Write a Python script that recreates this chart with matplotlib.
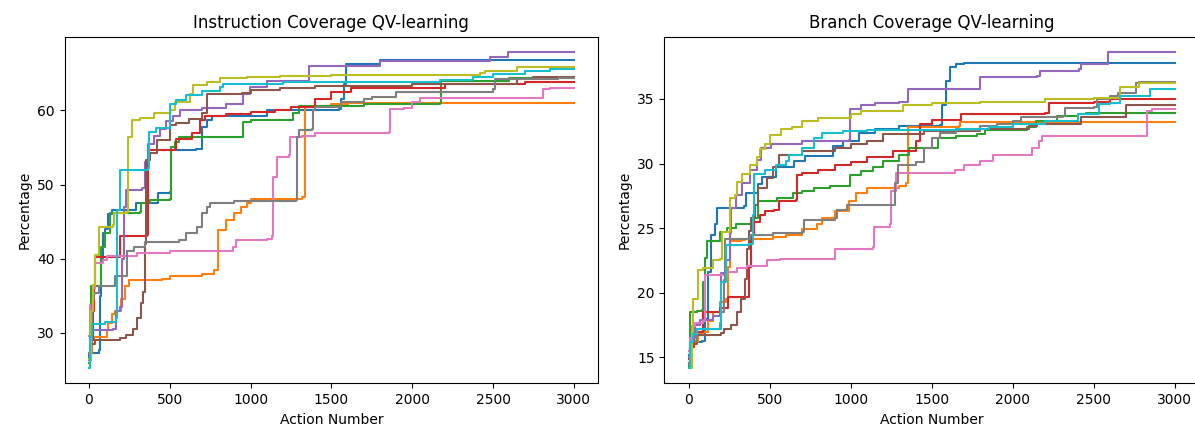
import matplotlib
matplotlib.use("Agg")
import matplotlib.pyplot as plt

n_actions = 3000

# (action, coverage %) breakpoints of each run, instruction coverage
instr_blue = [(0, 26.8), (15, 27.3), (60, 27.7), (68, 35), (75, 40), (90, 43.5), (100, 44), (120, 46),
              (140, 46.5), (290, 47.5), (430, 48.8), (500, 49), (505, 54.6), (660, 54.8), (700, 57.8),
              (728, 58.7), (760, 59.2), (1100, 60), (1545, 60.2), (1560, 61.5), (1575, 63.5),
              (1590, 66.3), (1800, 66.8)]
instr_orange = [(0, 27.3), (20, 29), (30, 29.5), (110, 30.4), (120, 31.3), (140, 32.5), (160, 33),
                (200, 34.5), (225, 36.3), (250, 37.1), (450, 37.3), (500, 37.6), (700, 37.9),
                (775, 38.5), (800, 43.9), (850, 45.2), (900, 46.1), (940, 47), (980, 47.5),
                (1000, 48), (1150, 48.1), (1320, 48.3), (1335, 60.4), (1360, 60.6), (1500, 60.8),
                (1600, 61)]
instr_green = [(0, 26), (5, 30), (10, 36.3), (60, 36.3), (75, 41.6), (100, 43.4), (130, 46.1),
               (315, 46.3), (320, 47.5), (380, 47.9), (500, 48), (505, 55), (530, 55.7), (560, 56.4),
               (950, 56.4), (956, 58.4), (1000, 58.7), (1260, 59.6), (1300, 60.6), (1700, 60.9),
               (2170, 61), (2175, 64), (2600, 64.3)]
instr_red = [(0, 27), (15, 29), (25, 33), (30, 36), (40, 40.2), (190, 40.5), (195, 43), (360, 43.2),
             (366, 54.6), (530, 54.8), (540, 56.2), (640, 56.9), (686, 58.7), (720, 59.3), (850, 59.5),
             (1000, 59.8), (1150, 60), (1250, 60.5), (1400, 61.5), (1500, 62.5), (1620, 63),
             (2200, 63.5), (2700, 63.8)]
instr_purple = [(0, 26.4), (10, 29), (20, 30.4), (150, 30.5), (165, 33), (195, 33.5), (205, 40),
                (215, 47), (230, 49.2), (330, 49.5), (345, 53), (366, 55.5), (400, 56.5), (440, 57.5),
                (480, 58.5), (520, 59.3), (563, 60), (700, 60.3), (851, 60.9), (954, 62.2),
                (995, 63.1), (1100, 64), (1360, 66), (1800, 66.7), (2480, 67.2), (2590, 67.8)]
instr_brown = [(0, 27), (15, 28.5), (40, 29), (190, 29.3), (230, 29.7), (270, 30.5), (300, 32),
               (320, 34), (335, 35.5), (345, 42), (355, 53.3), (380, 54.2), (420, 56), (500, 58),
               (540, 58.3), (620, 58.8), (700, 59.6), (728, 62.2), (950, 62.4), (1000, 62.7),
               (1181, 63), (1400, 63.3), (2000, 63.6), (2650, 64.2), (2750, 64.5)]
instr_pink = [(0, 29.6), (5, 33.8), (25, 36), (35, 39.4), (90, 39.8), (110, 40.4), (300, 40.7),
              (500, 41), (890, 41.6), (910, 42.5), (1100, 42.7), (1130, 43), (1140, 51), (1160, 51),
              (1165, 53.7), (1240, 54), (1245, 56.4), (1320, 56.6), (1400, 56.9), (1600, 57),
              (1855, 57.1), (1860, 60.2), (1950, 60.3), (2000, 61.1), (2050, 61.6), (2805, 61.6),
              (2810, 62.9), (2850, 63)]
instr_gray = [(0, 27.3), (10, 30), (20, 34.5), (30, 35.4), (60, 36.3), (160, 37.6), (230, 37.6),
              (235, 41), (280, 41.6), (350, 42.3), (560, 42.5), (600, 43.4), (670, 44.3), (700, 46.1),
              (730, 47), (750, 47.5), (900, 47.8), (1280, 47.9), (1285, 56.4), (1300, 57.3),
              (1380, 57.5), (1386, 60), (1400, 60.4), (1560, 61.1), (1700, 61.5), (1750, 61.8),
              (1900, 62.5), (2500, 62.9), (2510, 64.2), (2900, 64.3)]
instr_olive = [(0, 26.5), (15, 33), (25, 36.5), (40, 40.5), (65, 44.3), (150, 44.5), (155, 46.2),
               (233, 46.3), (240, 56.4), (264, 58.7), (315, 59), (400, 59.6), (500, 60), (532, 61.1),
               (624, 62.2), (645, 63.4), (728, 63.8), (810, 64.3), (975, 64.5), (1180, 64.6),
               (1500, 64.8), (2420, 65), (2450, 65.3), (2650, 65.8)]
instr_cyan = [(0, 25.3), (8, 29.5), (20, 31.2), (100, 31.5), (165, 32), (175, 46.5), (190, 52),
              (365, 52.2), (370, 57.1), (418, 57.6), (500, 60.9), (540, 61.4), (600, 62), (700, 62.6),
              (810, 63.1), (830, 63.6), (1200, 63.8), (2170, 64.1), (2375, 64.5), (2500, 64.9),
              (2700, 65.3), (2850, 65.6)]

# (action, coverage %) breakpoints of each run, branch coverage
branch_blue = [(0, 15.2), (15, 15.9), (25, 16.2), (80, 16.3), (100, 18), (120, 21.6), (140, 24.5),
               (160, 25.3), (175, 26.6), (340, 26.7), (355, 27.7), (430, 28.4), (450, 29), (540, 29.7),
               (650, 30.2), (720, 30.6), (890, 31.4), (950, 31.75), (1050, 32.4), (1150, 32.7),
               (1300, 32.9), (1550, 33), (1565, 34.5), (1590, 36.4), (1610, 37.5), (1650, 37.7),
               (1700, 37.75)]
branch_orange = [(0, 14.6), (15, 15.8), (30, 16.2), (60, 16.8), (90, 17), (120, 17.8), (150, 18.5),
                 (190, 19.3), (230, 19.5), (245, 22), (255, 24), (320, 24.1), (345, 24.2), (520, 24.3),
                 (600, 24.5), (700, 24.9), (790, 25.3), (820, 25.8), (900, 26.3), (990, 27.1),
                 (1030, 27.7), (1100, 28.1), (1300, 28.3), (1340, 28.5), (1355, 32.8), (1670, 32.9),
                 (1675, 33.2)]
branch_green = [(0, 14.3), (5, 16.2), (10, 18.5), (50, 18.6), (85, 18.7), (90, 20.85), (100, 22.7),
                (110, 24), (190, 24.7), (235, 25), (290, 25.3), (400, 25.8), (430, 27.1), (545, 27.3),
                (646, 27.7), (700, 27.9), (770, 28.1), (870, 28.25), (996, 29.15), (1060, 29.4),
                (1140, 29.7), (1200, 30.2), (1300, 30.7), (1360, 31.2), (1540, 32), (1650, 32.1),
                (1780, 32.3), (1830, 32.6), (2085, 32.8), (2140, 33.3), (2270, 33.7), (2400, 33.85),
                (2450, 33.9)]
branch_red = [(0, 14.9), (15, 15.8), (30, 17), (90, 18.5), (190, 18.8), (240, 19.7), (370, 19.8),
              (375, 22), (385, 24.5), (400, 25.5), (440, 26), (470, 26.3), (525, 26.4), (560, 27.1),
              (660, 27.2), (667, 29.15), (700, 29.3), (800, 29.5), (900, 29.9), (1000, 30.1),
              (1100, 30.5), (1260, 31), (1400, 31.75), (1430, 33.05), (1500, 33.4), (1680, 33.8),
              (2200, 33.9), (2220, 34.7), (2500, 34.8), (2600, 35)]
branch_purple = [(0, 15), (20, 16.5), (40, 17.5), (70, 17.9), (150, 18.2), (190, 18.5), (200, 21.5),
                 (230, 22.5), (255, 24.6), (260, 26.6), (290, 27.6), (330, 28.5), (380, 29.5),
                 (420, 30.3), (445, 31.2), (510, 31.5), (700, 31.75), (990, 31.8), (995, 34.2),
                 (1060, 34.5), (1150, 34.7), (1300, 34.8), (1355, 35.8), (1798, 35.9), (1800, 36.7),
                 (2150, 36.8), (2170, 37.2), (2410, 37.3), (2420, 37.7), (2585, 37.7), (2590, 38.6)]
branch_brown = [(0, 14.6), (10, 15.8), (20, 16), (50, 16.7), (200, 16.9), (215, 17.2), (260, 17.5),
                (300, 18.5), (320, 19.5), (345, 21.1), (360, 23.4), (370, 24.8), (385, 25.8),
                (410, 26.8), (430, 28.1), (480, 28.9), (520, 29.7), (560, 30.7), (700, 31),
                (900, 31.2), (1000, 31.5), (1100, 31.75), (1200, 32.3), (1450, 32.5), (1800, 32.7),
                (2100, 32.9), (2150, 33.05), (2420, 33.6), (2700, 34.55)]
branch_pink = [(0, 15.5), (10, 16.5), (20, 17.4), (40, 17.7), (90, 17.8), (100, 21.4), (235, 21.6),
               (300, 21.9), (360, 22.1), (480, 22.5), (565, 22.6), (895, 22.65), (905, 23.4),
               (1140, 23.55), (1145, 25.1), (1240, 25.3), (1250, 27.85), (1280, 29.3), (1640, 29.5),
               (1700, 29.9), (1800, 30.2), (1880, 30.7), (2120, 31.2), (2160, 31.75), (2180, 32.1),
               (2825, 32.1), (2830, 34.1), (2860, 34.2)]
branch_gray = [(0, 14.5), (10, 15.8), (20, 16.3), (50, 17.2), (190, 17.2), (200, 18.5), (215, 21),
               (225, 24.2), (380, 24.5), (520, 24.6), (700, 24.7), (710, 25.65), (900, 25.8),
               (913, 26.4), (975, 26.76), (1260, 26.8), (1270, 28.5), (1290, 29.9), (1400, 30.1),
               (1450, 31.2), (1500, 32), (1550, 32.4), (1650, 32.6), (1800, 32.9), (1900, 33.05),
               (2000, 33.3), (2050, 33.6), (2310, 33.7), (2320, 34.3), (2500, 34.4), (2520, 35),
               (2600, 35.2), (2650, 35.5), (2760, 36.2), (2780, 36.3)]
branch_olive = [(0, 14.2), (20, 17), (25, 19.5), (60, 21.8), (90, 21.9), (150, 22.5), (195, 22.6),
                (205, 24.7), (255, 27.3), (285, 27.6), (300, 28.6), (330, 29.2), (380, 29.9),
                (420, 30.5), (440, 31.1), (470, 31.5), (500, 32.2), (570, 32.7), (640, 32.8),
                (700, 33.3), (800, 33.5), (1000, 33.8), (1060, 34.1), (1320, 34.5), (1500, 34.7),
                (1800, 34.8), (2200, 35), (2500, 35.1), (2660, 35.9), (2780, 36.2)]
branch_cyan = [(0, 14.2), (5, 15.8), (10, 16.2), (25, 16.8), (50, 17.2), (190, 17.7), (200, 20.85),
               (230, 23.7), (370, 23.8), (395, 26), (405, 29.2), (470, 29.5), (540, 29.9), (600, 30.2),
               (620, 30.7), (700, 31.2), (770, 32), (820, 32.4), (950, 32.5), (1100, 32.6),
               (1650, 32.7), (1850, 32.85), (2000, 33.05), (2200, 33.3), (2400, 33.8), (2530, 34.6),
               (2600, 34.7), (2663, 35.25), (2848, 35.8)]

instr_runs = [instr_blue, instr_orange, instr_green, instr_red, instr_purple,
              instr_brown, instr_pink, instr_gray, instr_olive, instr_cyan]
branch_runs = [branch_blue, branch_orange, branch_green, branch_red, branch_purple,
               branch_brown, branch_pink, branch_gray, branch_olive, branch_cyan]


def plot_runs(ax, runs, title):
    for run in runs:
        xs = [p[0] for p in run] + [n_actions - 1]
        ys = [p[1] for p in run] + [run[-1][1]]
        ax.step(xs, ys, where='post', linewidth=1.5)
    ax.set_title(title)
    ax.set_xlabel('Action Number')
    ax.set_ylabel('Percentage')


fig = plt.figure(figsize=(11.95, 4.34), dpi=100)
ax1 = fig.add_axes([0.0541, 0.1164, 0.4463, 0.799])
ax2 = fig.add_axes([0.556, 0.1164, 0.4474, 0.799])

plot_runs(ax1, instr_runs, 'Instruction Coverage QV-learning')
plot_runs(ax2, branch_runs, 'Branch Coverage QV-learning')
ax1.set_yticks([30, 40, 50, 60])
ax2.set_yticks([15, 20, 25, 30, 35])

fig.savefig('out.png', dpi=100)
